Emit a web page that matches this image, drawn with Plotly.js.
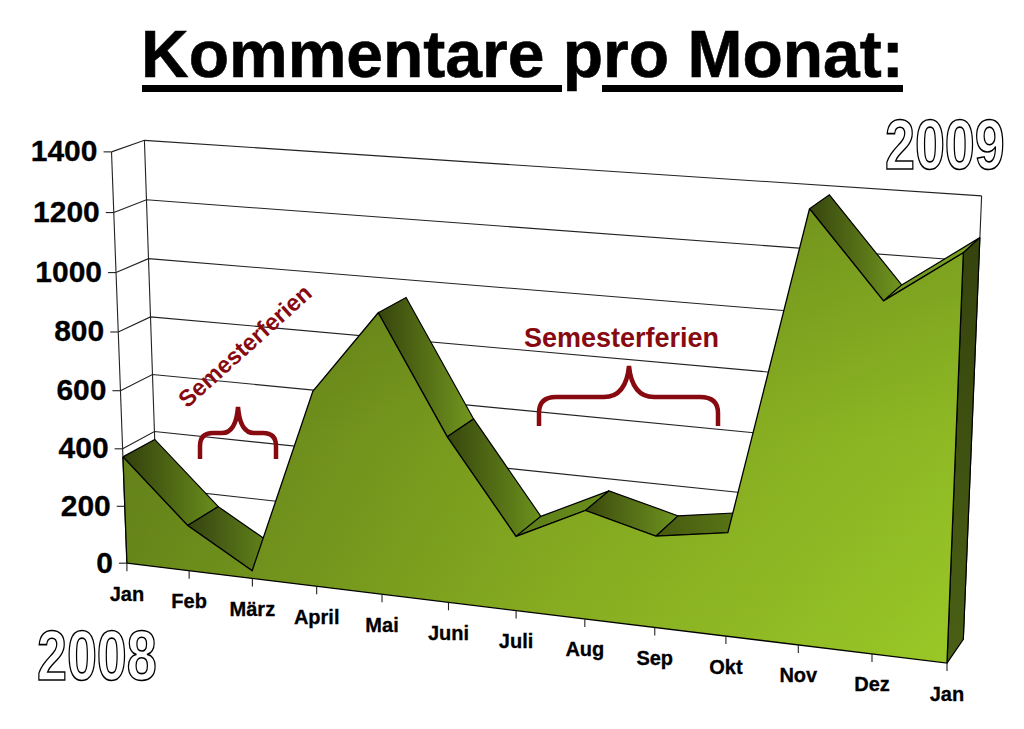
<!DOCTYPE html>
<html><head><meta charset="utf-8">
<script src="https://cdn.plot.ly/plotly-3.0.1.min.js"></script>
<style>html,body{margin:0;padding:0;background:#fff}</style></head>
<body><div id="chart" style="width:1024px;height:729px"></div>
<script>
// ---- chart data ----
const months   = ["Jan","Feb","März","April","Mai","Juni","Juli","Aug","Sep","Okt","Nov","Dez","Jan"];
const comments = [372,158,27,662,941,555,249,360,301,338,1372,1110,1273];
const yTicks   = [0,200,400,600,800,1000,1200,1400];
const titleText = "Kommentare pro Monat:";
const noteText  = "Semesterferien";
const yearStart = "2008";
const yearEnd   = "2009";

// ---- colours ----
const outline = "#000";
const noteRed = "#870a10";
const faceFrom = ["#323f0c","#344210","#000","#000","#36450d","#37460d","#5c7c18","#3a490e","#46590f","#000","#36450d","#6f9420"];
const faceTo   = ["#6a8f1c","#6a8f1c","#000","#000","#73981f","#6c921d","#6a8f1c","#6f941f","#5b7a17","#000","#71961f","#7aa421"];

// ---- perspective camera of the 3-D box: calibrated on the box corners ----
const calib = [
 [0,0,0,126.7,563],[0,1400,0,111.7,151.7],[0,1400,1,144,140],[12,0,0,948,663.3],[12,0,1,962.7,639],
 [12,1400,1,982.3,196],[0,400,1,154.3,431.7],[0,1000,1,149,259],[12,1400,0,964.2,210],
 [1,0,0,189,570.6],[3,0,0,316.7,586],[11,0,0,871.7,654],[0,200,0,125,506.7],[0,1000,0,116,272.7]
];
function solveCamera(){
  const A=[],b=[];
  calib.forEach(([u,v,w,x,y])=>{
    const U=u/12,V=v/1400;
    A.push([U,V,w,1,0,0,0,0,-x*U,-x*V,-x*w]);b.push(x);
    A.push([0,0,0,0,U,V,w,1,-y*U,-y*V,-y*w]);b.push(y);
  });
  const n=11,M=[];
  for(let i=0;i<n;i++){M.push(new Array(n+1).fill(0));
    for(let j=0;j<n;j++)for(let r=0;r<A.length;r++)M[i][j]+=A[r][i]*A[r][j];
    for(let r=0;r<A.length;r++)M[i][n]+=A[r][i]*b[r];}
  for(let c=0;c<n;c++){let p=c;for(let r=c+1;r<n;r++)if(Math.abs(M[r][c])>Math.abs(M[p][c]))p=r;
    [M[c],M[p]]=[M[p],M[c]];
    for(let r=0;r<n;r++)if(r!==c){const f=M[r][c]/M[c][c];for(let k=c;k<=n;k++)M[r][k]-=f*M[c][k];}}
  return M.map((row,i)=>row[n]/row[i]);
}
const cam=solveCamera();
function P(u,v,w){const U=u/12,V=v/1400,d=cam[8]*U+cam[9]*V+cam[10]*w+1;
  return [(cam[0]*U+cam[1]*V+cam[2]*w+cam[3])/d,(cam[4]*U+cam[5]*V+cam[6]*w+cam[7])/d];}

// ---- traces ----
const traces=[];
function poly(pts,closed){const p=closed?pts.concat([pts[0]]):pts;return {x:p.map(q=>q[0]),y:p.map(q=>q[1])};}
function line(pts,width,color){const p=poly(pts);traces.push({x:p.x,y:p.y,type:"scatter",mode:"lines",line:{color:color||outline,width:width||1.2},hoverinfo:"skip",showlegend:false});}
function face(pts,grad,lineW){const p=poly(pts,true);traces.push({x:p.x,y:p.y,type:"scatter",mode:lineW?"lines":"none",fill:"toself",fillgradient:grad,line:{color:outline,width:lineW||0},hoverinfo:"skip",showlegend:false});}
const N=months.length-1;

// box walls and grid
yTicks.forEach(t=>{ line([P(0,t,0),P(0,t,1),P(N,t,1)],1.1,"#222"); });
yTicks.forEach(t=>{ const a=P(0,t,0); line([[a[0]-8,a[1]],a],1.1,"#222"); });
line([P(0,0,0),P(0,1400,0)],1.1,"#222");
line([P(0,0,1),P(0,1400,1)],1.1,"#222");
line([P(N,0,1),P(N,1400,1)],1.1,"#222");

// top faces of the ribbon
for(let i=0;i<N;i++){
  if(comments[i+1]>comments[i] && faceFrom[i]==="#000") continue;
  face([P(i,comments[i],0),P(i,comments[i],1),P(i+1,comments[i+1],1),P(i+1,comments[i+1],0)],
    {type:"horizontal",colorscale:[[0,faceFrom[i]],[1,faceTo[i]]]},1.2);
}
// right end cap
face([P(N,0,0),P(N,0,1),P(N,comments[N],1),P(N,comments[N],0)],
  {type:"vertical",colorscale:[[0,"#4a6015"],[1,"#35430d"]]},1.2);

// front area
const front=[P(0,0,0)].concat(comments.map((c,i)=>P(i,c,0))).concat([P(N,0,0)]);
face(front,{type:"horizontal",colorscale:[[0,"#6a8a1b"],[0.5,"#88ae21"],[1,"#9ac827"]]},0);
face(front,{type:"vertical",colorscale:[[0,"rgba(0,0,0,0)"],[0.5,"rgba(0,0,0,0.07)"],[1,"rgba(0,0,0,0.22)"]]},0);
line(front.concat([front[0]]),1.3);

// category ticks and labels
months.forEach((m,i)=>{const a=P(i,0,0);line([a,[a[0],a[1]+8]],1.1,"#222");});
const xl=months.map((m,i)=>P(i,0,0));
traces.push({x:xl.map(q=>q[0]),y:xl.map((q,i)=>q[1]+32.5),text:months,type:"scatter",mode:"text",textposition:"middle center",
  textfont:{family:"Liberation Sans",size:20,color:"#000",weight:700},hoverinfo:"skip",showlegend:false});
// value labels
const yl=yTicks.map(t=>P(0,t,0));
traces.push({x:yl.map(q=>q[0]-14),y:yl.map(q=>q[1]+2),text:yTicks.map(String),type:"scatter",mode:"text",textposition:"middle left",
  textfont:{family:"Liberation Sans",size:30,color:"#000",weight:700},hoverinfo:"skip",showlegend:false});

const yearShift=25; // the narrowed 2009 sits right of its natural, wider box
const yearSqueeze=0.77;
const annotations=[
 {x:522,y:53.5,text:"<b>"+titleText+"</b>",font:{family:"Liberation Sans",size:66,color:"#000"}},
 {x:97,y:656,text:"<b>"+yearStart+"</b>",font:{family:"Liberation Sans",size:70,color:"#fff"}},
 {x:945-yearShift,y:145,text:"<b>"+yearEnd+"</b>",font:{family:"Liberation Sans",size:70,color:"#fff"}},
 {x:621,y:338,text:"<b>"+noteText+"</b>",font:{family:"Liberation Sans",size:27,color:noteRed}},
 {x:245,y:346,text:"<b>"+noteText+"</b>",textangle:-42,font:{family:"Liberation Sans",size:23.5,color:noteRed}}
].map(a=>Object.assign({xref:"x",yref:"y",showarrow:false,xanchor:"center",yanchor:"middle"},a));

const brace=(d)=>({type:"path",path:d,xref:"x",yref:"y",layer:"above",line:{color:noteRed,width:4.5}});
const shapes=[
 {type:"rect",xref:"x",yref:"y",x0:142,x1:562,y0:85,y1:92,fillcolor:"#000",line:{width:0}},
 {type:"rect",xref:"x",yref:"y",x0:602,x1:903,y0:85,y1:92,fillcolor:"#000",line:{width:0}},
 brace("M200,459 L200,446 Q200,433 213,433 L222,433 Q236,433 238,407 Q240,433 254,433 L263,433 Q276,433 276,446 L276,459"),
 brace("M539,426 L539,413 Q539,397 556,397 L604,397 Q626,397 629,366 Q632,397 654,397 L700,397 Q718,397 718,413 L718,426")
];

Plotly.newPlot("chart",traces,{
  width:1024,height:729,margin:{l:0,r:0,t:0,b:0},paper_bgcolor:"#fff",plot_bgcolor:"#fff",showlegend:false,
  xaxis:{range:[0,1024],visible:false,fixedrange:true},
  yaxis:{range:[729,0],visible:false,fixedrange:true},
  annotations,shapes
},{displayModeBar:false,staticPlot:true}).then(()=>{
  // the year labels are narrow outlined lettering; the title is a touch heavier
  document.querySelectorAll(".annotation-text").forEach(el=>{
    const t=el.textContent;
    if(t===yearStart||t===yearEnd){
      const b=el.getBBox(),cx=b.x+b.width/2,dx=(t===yearEnd)?yearShift:0;
      el.setAttribute("transform","translate("+(cx+dx)+",0) scale("+yearSqueeze+",1) translate("+(-cx)+",0)");
      el.style.stroke="#000";el.style.strokeWidth="1.6px";
    }
    if(t===titleText){el.style.stroke="#000";el.style.strokeWidth="0.6px";}
  });
  document.querySelectorAll(".textpoint text").forEach(el=>{el.style.stroke="#000";el.style.strokeWidth="0.3px";});
});
</script></body></html>
